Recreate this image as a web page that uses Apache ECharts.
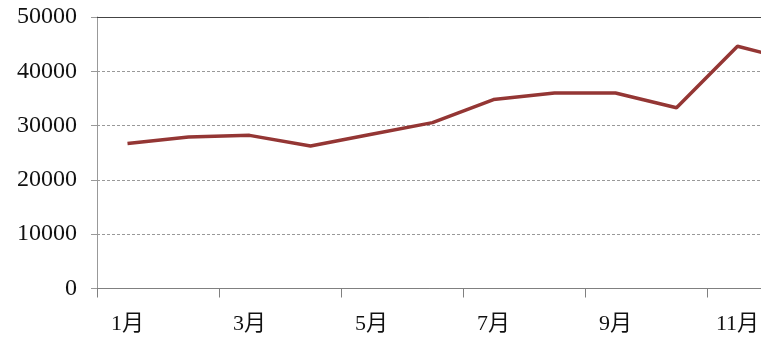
<!DOCTYPE html>
<html><head><meta charset="utf-8">
<script src="https://cdn.jsdelivr.net/npm/echarts@6/dist/echarts.min.js"></script>
<style>html,body{margin:0;padding:0;background:#fff}#c{width:761px;height:341px}</style>
</head><body><div id="c"></div>
<script>
const months = ['1月','2月','3月','4月','5月','6月','7月','8月','9月','10月','11月','12月'];
const values = [26700, 27900, 28200, 26250, 28400, 30550, 34800, 36000, 36000, 33300, 44600, 41800];
const yTicks = [0, 10000, 20000, 30000, 40000, 50000];

const chart = echarts.init(document.getElementById('c'), null, {renderer:'canvas'});
const font = '"Liberation Serif","Noto Sans CJK JP",serif';
chart.setOption({
  animation: false,
  backgroundColor: '#fff',
  grid: {left: 97, top: 17, width: 732, height: 271.5, containLabel: false, outerBoundsMode: 'none'},
  xAxis: [{
    type: 'category', data: months, boundaryGap: true,
    axisLine: {lineStyle: {color: '#808080', width: 1}},
    axisTick: {show: true, interval: 1, length: 9, lineStyle: {color: '#808080'}},
    axisLabel: {interval: 1, margin: 25, fontSize: 22, color: '#111', fontFamily: font},
    splitLine: {show: false}
  }, {
    type: 'category', data: months, position: 'top',
    axisLine: {lineStyle: {color: '#444', width: 1}},
    axisTick: {show: false}, axisLabel: {show: false}
  }],
  yAxis: {
    type: 'value', min: yTicks[0], max: yTicks[yTicks.length-1], interval: 10000,
    axisLine: {show: true, lineStyle: {color: '#999', width: 1}},
    axisTick: {show: true, length: 6, lineStyle: {color: '#999'}},
    axisLabel: {margin: 20, fontSize: 24, color: '#111', fontFamily: font,
      formatter: function (v) { return String(v); }},
    splitLine: {show: true, lineStyle: {color: '#999', type: [3, 2], width: 1}}
  },
  series: [{
    type: 'line', data: values, symbol: 'none',
    lineStyle: {color: '#943634', width: 3.5},
    itemStyle: {color: '#943634'}
  }]
});
</script></body></html>
